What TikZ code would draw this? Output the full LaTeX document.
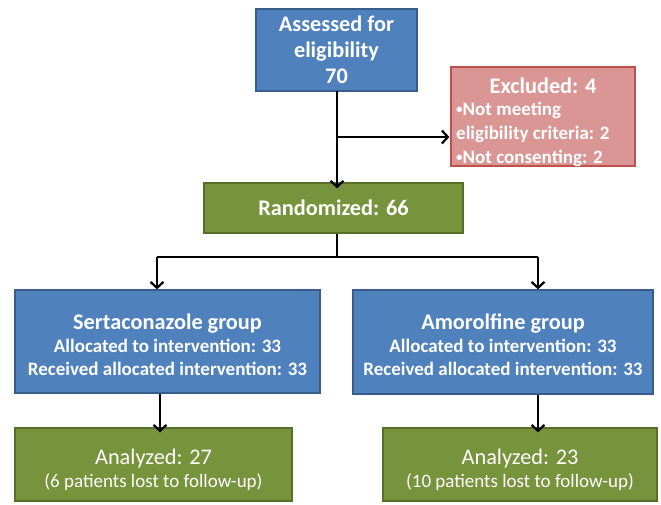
\documentclass[tikz,border=0pt]{standalone}
\usepackage{fontspec}
\setmainfont{Carlito}
\usetikzlibrary{arrows.meta}
\definecolor{bluefill}{HTML}{4F81BD}
\definecolor{blueline}{HTML}{385D8A}
\definecolor{greenfill}{HTML}{77933C}
\definecolor{greenline}{HTML}{56702A}
\definecolor{redfill}{HTML}{D99694}
\definecolor{redline}{HTML}{C0504D}
\newcommand{\tsz}{\fontsize{22.3}{26}\selectfont}
\newcommand{\ssz}{\fontsize{19}{23}\selectfont}
\newcommand{\smbul}{{\fontsize{13}{13}\selectfont\raisebox{1.5pt}{\textbullet}}}
\tikzset{
  boxbase/.style={rectangle, line width=1.3pt, text=white, inner sep=0pt, align=center},
  bluebox/.style={boxbase, draw=blueline, fill=bluefill},
  greenbox/.style={boxbase, draw=greenline, fill=greenfill},
  redbox/.style={boxbase, draw=redline, fill=redfill},
  conn/.style={line width=2.4pt, draw=black},
  arr/.style={conn, -{Straight Barb[length=6pt,width=13pt,line width=2.2pt]}},
}
\begin{document}
\begin{tikzpicture}[x=1pt,y=-1pt]
\useasboundingbox (0,0) rectangle (661,504);
\node[bluebox, font=\bfseries\tsz, minimum width=161pt, minimum height=82pt] (assess) at (336.5,50) {Assessed for\\ eligibility\\ 70};
\node[redbox, minimum width=184pt, minimum height=99pt] (excl) at (543,116.5) {};
\node[font=\bfseries\tsz, text=white, anchor=center, inner sep=0pt] (exclt) at (543,86) {Excluded: 4};
\node[font=\bfseries\ssz, text=white, anchor=west, align=left, inner sep=0pt] (exclb) at (456,134) {\smbul Not meeting\\[1pt] eligibility criteria: 2\\[1pt] \smbul Not consenting: 2};
\node[greenbox, font=\bfseries\tsz, minimum width=259pt, minimum height=50pt] (rand) at (333.5,208) {Randomized: 66};
\node[bluebox, font=\bfseries\ssz, minimum width=305pt, minimum height=103pt] (sert) at (167.5,341.5) {\raisebox{0pt}[22pt][0pt]{\tsz Sertaconazole group}\\ Allocated to intervention: 33\\ Received allocated intervention: 33};
\node[bluebox, font=\bfseries\ssz, minimum width=300pt, minimum height=104pt] (amor) at (503,342) {\raisebox{0pt}[22pt][0pt]{\tsz Amorolfine group}\\ Allocated to intervention: 33\\ Received allocated intervention: 33};
\node[greenbox, font=\ssz, minimum width=277pt, minimum height=73pt] (an1) at (153.5,464.5) {\raisebox{0pt}[26pt][0pt]{\tsz Analyzed: 27}\\ (6 patients lost to follow-up)};
\node[greenbox, font=\ssz, minimum width=274pt, minimum height=73pt] (an2) at (520,464.5) {\raisebox{0pt}[26pt][0pt]{\tsz Analyzed: 23}\\ (10 patients lost to follow-up)};
% connectors
\coordinate (top) at (337,91);
\coordinate (branch) at (337,137);
\coordinate (split) at (337,257);
\coordinate (lx) at (157,257);
\coordinate (rx) at (538,257);
\coordinate (lx2) at (160,0);
\draw[arr] (top) -- (branch) -- ([yshift=-6pt]rand.north -| branch);
\draw[arr] (branch) -- ([xshift=-1pt]excl.west |- branch);
\draw[conn] (rand.south -| split) -- (split);
\draw[conn] (lx) -- (rx);
\draw[arr] (lx) -- (lx |- sert.north);
\draw[arr] (rx) -- (rx |- amor.north);
\draw[arr] (lx2 |- sert.south) -- ([yshift=-5pt]lx2 |- an1.north);
\draw[arr] (rx |- amor.south) -- ([yshift=-5pt]rx |- an2.north);
\end{tikzpicture}
\end{document}
